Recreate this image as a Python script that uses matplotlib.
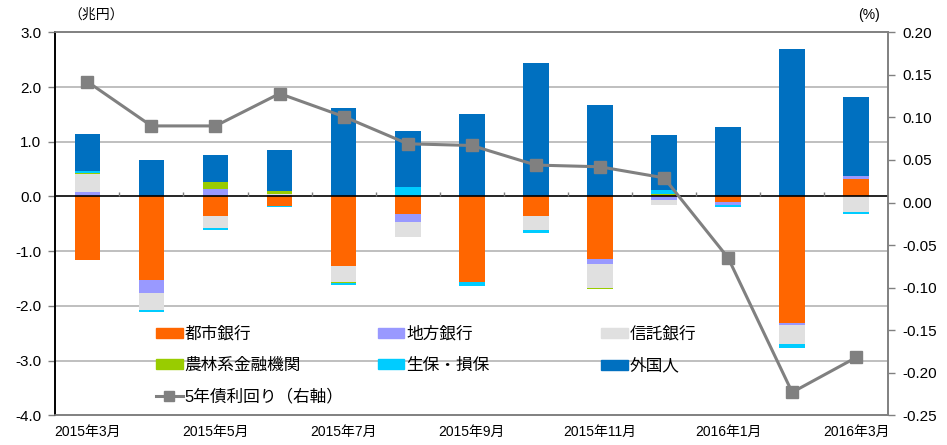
import numpy as np
import matplotlib
matplotlib.use("Agg")
import matplotlib.pyplot as plt
from matplotlib.lines import Line2D
from matplotlib.patches import Patch

plt.rcParams['font.family'] = ['Liberation Sans', 'Noto Sans CJK JP', 'DejaVu Sans']

# データ (兆円, %)
months = ['2015年3月', '2015年4月', '2015年5月', '2015年6月', '2015年7月', '2015年8月',
          '2015年9月', '2015年10月', '2015年11月', '2015年12月', '2016年1月', '2016年2月',
          '2016年3月']
toshi = [-1.16, -1.52, -0.35, -0.18, -1.28, -0.32, -1.56, -0.35, -1.14, 0.02, -0.11, -2.31, 0.32]
chiho = [0.09, -0.24, 0.13, 0.03, 0.01, -0.15, 0.00, 0.00, -0.09, -0.07, -0.04, -0.04, 0.06]
shintaku = [0.32, -0.31, -0.23, 0.01, -0.29, -0.28, 0.01, -0.27, -0.44, -0.09, -0.01, -0.35, -0.28]
norin = [0.02, 0.00, 0.13, 0.06, -0.01, 0.00, 0.00, 0.00, -0.02, 0.02, 0.00, 0.00, 0.00]
seiho = [0.03, -0.04, -0.03, -0.01, -0.03, 0.17, -0.07, -0.05, -0.01, 0.07, -0.04, -0.07, -0.05]
gaikoku = [0.68, 0.66, 0.50, 0.75, 1.60, 1.03, 1.50, 2.43, 1.68, 1.01, 1.27, 2.69, 1.44]
yield5 = [0.142, 0.090, 0.090, 0.128, 0.101, 0.069, 0.067, 0.044, 0.042, 0.029, -0.065, -0.223, -0.182]

series = [('都市銀行', toshi, '#FF6600'),
          ('地方銀行', chiho, '#9999FF'),
          ('信託銀行', shintaku, '#E0E0E0'),
          ('農林系金融機関', norin, '#99CC00'),
          ('生保・損保', seiho, '#00CCFF'),
          ('外国人', gaikoku, '#0070C0')]

W, H = 947, 445
fig = plt.figure(figsize=(W / 100, H / 100), dpi=100)
ax = fig.add_axes([55.3 / W, 1 - 415.3 / H, 833 / W, 383 / H])
ax2 = ax.twinx()

x = np.arange(len(months))
pos_bot = np.zeros(len(months))
neg_bot = np.zeros(len(months))
for name, vals, col in series:
    v = np.array(vals)
    bot = np.where(v >= 0, pos_bot, neg_bot)
    ax.bar(x, v, width=0.4, bottom=bot, color=col, linewidth=0, zorder=3)
    pos_bot += np.where(v >= 0, v, 0)
    neg_bot += np.where(v < 0, v, 0)

ax.set_xlim(-0.5, len(months) - 0.5)
ax.set_ylim(-4.0, 3.0)
lt = np.arange(-4, 3.1, 1.0)
ax.set_yticks(lt)
ax.set_yticklabels([f'{t:.1f}' for t in lt], fontsize=11)
for yv in [-3, -2, -1, 1, 2]:
    ax.axhline(yv, color='#BFBFBF', lw=1.4, zorder=1)
ax.axhline(0, color='black', lw=1.2, zorder=4)
ax.vlines(x[:-1] + 0.5, 0, 0.08, color='#808080', lw=1, zorder=4)

ax.set_xticks(x[::2])
ax.set_xticklabels(months[::2], fontsize=10)
ax.tick_params(axis='x', length=0, pad=7)
ax.tick_params(axis='y', length=5, width=1, color='#808080', pad=5)

ax2.plot(x, yield5, color='#808080', lw=2.2, marker='s', markersize=9, zorder=5)
ax2.set_ylim(-0.25, 0.20)
rt = np.round(np.arange(-0.25, 0.201, 0.05), 2)
ax2.set_yticks(rt)
ax2.set_yticklabels([f'{t:.2f}' if abs(t) > 1e-9 else '0.00' for t in rt], fontsize=11)
ax2.tick_params(axis='y', length=5, width=1, color='#808080', pad=5)

for a in (ax, ax2):
    for s in ('top', 'right', 'bottom'):
        a.spines[s].set_color('#808080')
        a.spines[s].set_linewidth(1.2)
    a.spines['left'].set_color('black')
    a.spines['left'].set_linewidth(1.2)

# 凡例 (3列)
handles = [Patch(color=c) for _, _, c in series]
labels = [n for n, _, _ in series]
line_h = Line2D([], [], color='#808080', lw=2.2, marker='s', markersize=7)
cols = [([handles[0], handles[3], line_h], [labels[0], labels[3], '5年債利回り（右軸）']),
        ([handles[1], handles[4]], [labels[1], labels[4]]),
        ([handles[2], handles[5]], [labels[2], labels[5]])]
xpos = [0.121, 0.387, 0.655]
legs = []
for (hs, ls), xp in zip(cols, xpos):
    lg = ax2.legend(hs, ls, loc='upper left', bbox_to_anchor=(xp, 0.232), frameon=False,
                    fontsize=12, handlelength=1.6, handleheight=0.55, handletextpad=0.1,
                    labelspacing=0.95, borderpad=0, borderaxespad=0)
    legs.append(lg)
for lg in legs[:-1]:
    ax2.add_artist(lg)

fig.text(68 / W, 1 - 15 / H, '（兆円）', fontsize=10, ha='left', va='center')
fig.text(880 / W, 1 - 15 / H, '(%)', fontsize=10, ha='right', va='center')

fig.savefig('out.png', dpi=100)
